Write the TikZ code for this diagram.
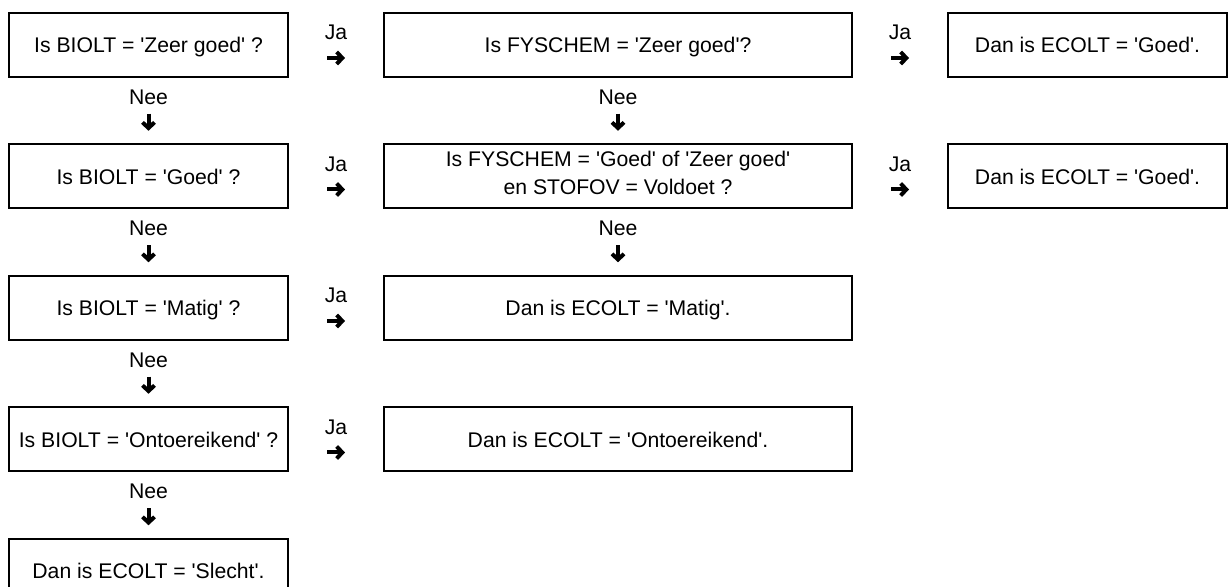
\documentclass[tikz,border=0pt]{standalone}
\usepackage{fontspec}
\setmainfont{Liberation Sans}
\usetikzlibrary{positioning,calc,arrows.meta}

\newcommand{\waarde}[1]{\textquotesingle#1\textquotesingle}

\tikzset{
	blok/.style={draw,line width=1pt,minimum height=32pt,align=center,font=\fontsize{10.6pt}{14pt}\selectfont},
	enkel/.style={text height=7.6pt,text depth=0pt},
	smal/.style={blok,enkel,minimum width=139.5pt},
	breed/.style={blok,enkel,minimum width=234pt},
	lbl/.style={inner sep=0pt,font=\fontsize{10.6pt}{14pt}\selectfont},
	pijl/.style={line width=2pt,-{Straight Barb[length=2.8pt,width=6pt]}}
}

\begin{document}
\begin{tikzpicture}[x=0.5pt,y=-0.5pt]
	\useasboundingbox (0,0) rectangle (1228,587);
	\clip (0,0) rectangle (1228,587);
	\node[smal](biolt1) at (148.5,45){Is BIOLT = \waarde{Zeer goed} ?};
	\node[breed,right=47pt of biolt1](fys1){Is FYSCHEM = \waarde{Zeer goed}?};
	\node[smal,right=47pt of fys1](goed1){Dan is ECOLT = \waarde{Goed}.};
	\node[smal,below=32.75pt of biolt1](biolt2){Is BIOLT = \waarde{Goed} ?};
	\node[blok,minimum width=234pt,text height=21.6pt,text depth=3.6pt,right=47pt of biolt2](fys2){Is FYSCHEM = \waarde{Goed} of \waarde{Zeer goed}\\en STOFOV = Voldoet ?};
	\node[smal,right=47pt of fys2](goed2){Dan is ECOLT = \waarde{Goed}.};
	\node[smal,below=32.75pt of biolt2](biolt3){Is BIOLT = \waarde{Matig} ?};
	\node[breed,right=47pt of biolt3](matig){Dan is ECOLT = \waarde{Matig}.};
	\node[smal,below=32.75pt of biolt3](biolt4){Is BIOLT = \waarde{Ontoereikend} ?};
	\node[breed,right=47pt of biolt4](ontoer){Dan is ECOLT = \waarde{Ontoereikend}.};
	\node[smal,below=32.75pt of biolt4](slecht){Dan is ECOLT = \waarde{Slecht}.};
	
	% Ja
	\node[lbl](ja1) at ($(biolt1.east)!0.5!(fys1.west)+(0,-12.5)$){Ja};
	\node[lbl](ja2) at ($(fys1.east)!0.5!(goed1.west)+(0,-12.5)$){Ja};
	\node[lbl](ja3) at ($(biolt2.east)!0.5!(fys2.west)+(0,-12.5)$){Ja};
	\node[lbl](ja4) at ($(fys2.east)!0.5!(goed2.west)+(0,-12.5)$){Ja};
	\node[lbl](ja5) at ($(biolt3.east)!0.5!(matig.west)+(0,-12.5)$){Ja};
	\node[lbl](ja6) at ($(biolt4.east)!0.5!(ontoer.west)+(0,-12.5)$){Ja};
	
	% Nee
	\node[lbl](nee1) at ($(biolt1.south)!0.5!(biolt2.north)+(0,-13.5)$){Nee};
	\node[lbl](nee2) at ($(fys1.south)!0.5!(fys2.north)+(0,-13.5)$){Nee};
	\node[lbl](nee3) at ($(biolt2.south)!0.5!(biolt3.north)+(0,-13.5)$){Nee};
	\node[lbl](nee4) at ($(fys2.south)!0.5!(matig.north)+(0,-13.5)$){Nee};
	\node[lbl](nee5) at ($(biolt3.south)!0.5!(biolt4.north)+(0,-13.5)$){Nee};
	\node[lbl](nee6) at ($(biolt4.south)!0.5!(slecht.north)+(0,-13.5)$){Nee};
	
	\draw[pijl] ([xshift=-4.5pt,yshift=-12.75pt]ja1.center) -- ([xshift=4.5pt,yshift=-12.75pt]ja1.center);
	\draw[pijl] ([xshift=-4.5pt,yshift=-12.75pt]ja2.center) -- ([xshift=4.5pt,yshift=-12.75pt]ja2.center);
	\draw[pijl] ([xshift=-4.5pt,yshift=-12.75pt]ja3.center) -- ([xshift=4.5pt,yshift=-12.75pt]ja3.center);
	\draw[pijl] ([xshift=-4.5pt,yshift=-12.75pt]ja4.center) -- ([xshift=4.5pt,yshift=-12.75pt]ja4.center);
	\draw[pijl] ([xshift=-4.5pt,yshift=-12.75pt]ja5.center) -- ([xshift=4.5pt,yshift=-12.75pt]ja5.center);
	\draw[pijl] ([xshift=-4.5pt,yshift=-12.75pt]ja6.center) -- ([xshift=4.5pt,yshift=-12.75pt]ja6.center);
	
	\draw[pijl] ([yshift=-8.25pt]nee1.center) -- ([yshift=-16.75pt]nee1.center);
	\draw[pijl] ([yshift=-8.25pt]nee2.center) -- ([yshift=-16.75pt]nee2.center);
	\draw[pijl] ([yshift=-8.25pt]nee3.center) -- ([yshift=-16.75pt]nee3.center);
	\draw[pijl] ([yshift=-8.25pt]nee4.center) -- ([yshift=-16.75pt]nee4.center);
	\draw[pijl] ([yshift=-8.25pt]nee5.center) -- ([yshift=-16.75pt]nee5.center);
	\draw[pijl] ([yshift=-8.25pt]nee6.center) -- ([yshift=-16.75pt]nee6.center);
\end{tikzpicture}
\end{document}
